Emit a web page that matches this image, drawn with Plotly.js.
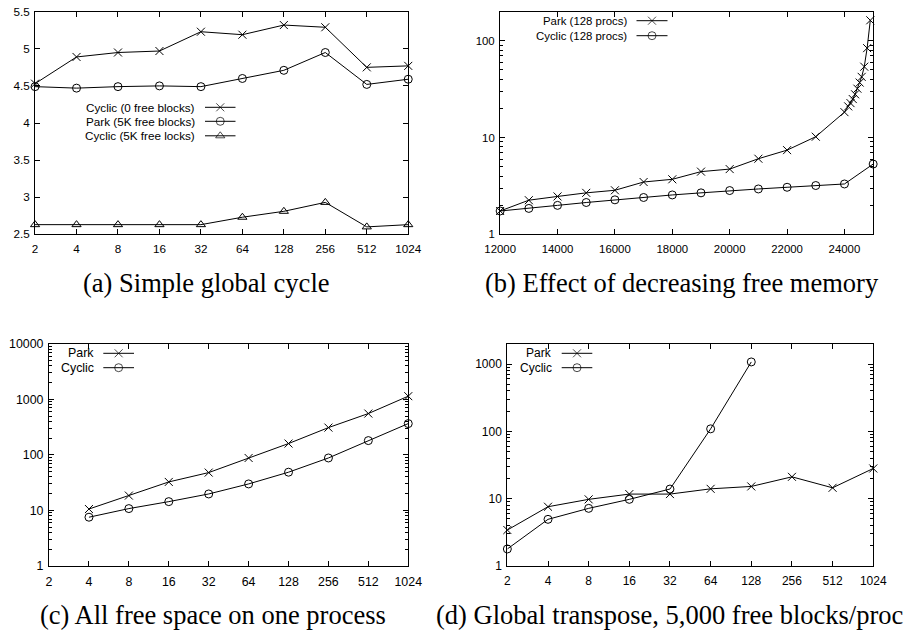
<!DOCTYPE html>
<html><head><meta charset="utf-8">
<script src="https://cdn.plot.ly/plotly-3.0.1.min.js"></script>
<style>html,body{margin:0;padding:0;background:#fff}#g{width:913px;height:633px}</style>
</head><body><div id="g"></div>
<script>
// ---- data ----
const procs = [2, 4, 8, 16, 32, 64, 128, 256, 512, 1024];
const procLabels = ['2','4','8','16','32','64','128','256','512','1024'];

// (a) Simple global cycle
const aCyclic0 = [4.53, 4.89, 4.95, 4.97, 5.23, 5.19, 5.32, 5.29, 4.75, 4.77];
const aPark5K  = [4.49, 4.47, 4.49, 4.50, 4.49, 4.60, 4.71, 4.95, 4.52, 4.59];
const aCyclic5K = [2.63, 2.63, 2.63, 2.63, 2.63, 2.73, 2.81, 2.93, 2.60, 2.63];

// (b) Effect of decreasing free memory
const bParkMem = [12000, 13000, 14000, 15000, 16000, 17000, 18000, 19000, 20000, 21000, 22000, 23000,
                  24000, 24130, 24210, 24290, 24370, 24450, 24530, 24600, 24690, 24790, 24900];
const bPark = [1.74, 2.25, 2.46, 2.68, 2.85, 3.47, 3.70, 4.44, 4.72, 6.04, 7.41, 10.2,
               18.3, 21, 22.7, 25, 28, 32, 37, 42.4, 54, 84, 163];
const bCyclicMem = [12000, 13000, 14000, 15000, 16000, 17000, 18000, 19000, 20000, 21000, 22000, 23000, 24000, 25000];
const bCyclic = [1.74, 1.85, 1.99, 2.13, 2.27, 2.40, 2.55, 2.68, 2.83, 2.94, 3.06, 3.19, 3.31, 5.32];

// (c) All free space on one process
const cProcs = [4, 8, 16, 32, 64, 128, 256, 512, 1024];
const cPark   = [10.6, 18.5, 32.6, 48, 88, 160, 310, 555, 1140];
const cCyclic = [7.55, 10.8, 14.4, 19.8, 30, 48.8, 88, 181, 366];

// (d) Global transpose, 5,000 free blocks/proc
const dPark = [3.42, 7.59, 9.77, 11.7, 11.7, 14.0, 15.2, 21.1, 14.5, 28.1];
const dCyclicProcs = [2, 4, 8, 16, 32, 64, 128];
const dCyclic = [1.79, 4.93, 7.18, 9.77, 13.9, 109, 1075];

const captions = ['(a) Simple global cycle', '(b) Effect of decreasing free memory',
                  '(c) All free space on one process', '(d) Global transpose, 5,000 free blocks/proc'];
const legendA = ['Cyclic (0 free blocks)', 'Park (5K free blocks)', 'Cyclic (5K free locks)'];
const legendB = ['Park (128 procs)', 'Cyclic (128 procs)'];
const legendCD = ['Park', 'Cyclic'];
const memTicks = [12000, 14000, 16000, 18000, 20000, 22000, 24000];
const logMajor = [1, 10, 100, 1000, 10000];
const logMinor = [2,3,4,5,6,7,8,9,20,30,40,50,60,70,80,90,200,300,400,500,600,700,800,900,2000,3000,4000,5000,6000,7000,8000,9000];

// ---- styling / layout ----
const W = 913, H = 633;
const px = v => v / W, py = v => 1 - v / H;
const SANS = 'Liberation Sans, Arial, sans-serif';
const SERIF = 'Liberation Serif, Times New Roman, serif';
const line = {color: '#000', width: 1};
const MK = {
  x: {symbol: 'x-thin-open', size: 8, color: '#000', line: {color: '#000', width: 1}},
  o: {symbol: 'circle-open', size: 8, color: '#000', line: {color: '#000', width: 1}},
  t: {symbol: 'triangle-up-open', size: 8, color: '#000', line: {color: '#000', width: 1}}
};
function tr(x, y, mk, xa, ya) {
  return {x: x, y: y, mode: 'lines+markers', line: line, marker: MK[mk], xaxis: xa, yaxis: ya,
          showlegend: false, hoverinfo: 'skip', cliponaxis: false};
}
const data = [
  tr(procs, aCyclic0, 'x', 'x', 'y'),
  tr(procs, aPark5K, 'o', 'x', 'y'),
  tr(procs, aCyclic5K, 't', 'x', 'y'),
  tr(bParkMem, bPark, 'x', 'x2', 'y2'),
  tr(bCyclicMem, bCyclic, 'o', 'x2', 'y2'),
  tr(cProcs, cPark, 'x', 'x3', 'y3'),
  tr(cProcs, cCyclic, 'o', 'x3', 'y3'),
  tr(procs, dPark, 'x', 'x4', 'y4'),
  tr(dCyclicProcs, dCyclic, 'o', 'x4', 'y4')
];

// legend boxes (pixel layout): text right edge, sample line start/end, rows
const legends = [
  {labels: legendA, marks: ['x','o','t'], tx: 197, l0: 205, l1: 235.5, rows: [107.3, 121.3, 135.8], fs: 11.7},
  {labels: legendB, marks: ['x','o'], tx: 629, l0: 636.5, l1: 667.5, rows: [20.7, 35.7], fs: 11.4},
  {labels: legendCD, marks: ['x','o'], tx: 96, l0: 103.3, l1: 134, rows: [353.3, 367.7], fs: 12.4},
  {labels: legendCD, marks: ['x','o'], tx: 554.3, l0: 561.7, l1: 592.3, rows: [353.3, 367.7], fs: 12}
];
const annotations = [];
legends.forEach(L => {
  L.labels.forEach((lab, i) => {
    annotations.push({text: lab, xref: 'paper', yref: 'paper', x: px(L.tx), y: py(L.rows[i]),
      xanchor: 'right', yanchor: 'middle', showarrow: false, font: {family: SANS, size: L.fs, color: '#000'}});
    const xm = (L.l0 + L.l1) / 2;
    data.push({x: [px(L.l0), px(xm), px(L.l1)], y: [py(L.rows[i]), py(L.rows[i]), py(L.rows[i])],
      mode: 'lines+markers', line: line,
      marker: Object.assign({}, MK[L.marks[i]], {size: [0, 8, 0]}),
      xaxis: 'x5', yaxis: 'y5', showlegend: false, hoverinfo: 'skip'});
  });
});
const capPos = [[206.5, 283], [682, 283], [213, 615], [669, 615]];
captions.forEach((c, i) => annotations.push({text: c, xref: 'paper', yref: 'paper',
  x: px(capPos[i][0]), y: py(capPos[i][1]), xanchor: 'center', yanchor: 'middle', showarrow: false,
  font: {family: SERIF, size: 26.5, color: '#000'}}));

function axBase(fs) {
  return {showline: true, linecolor: '#000', linewidth: 1, mirror: 'ticks', ticks: 'inside', ticklen: 5,
    tickcolor: '#000', tickwidth: 1, showgrid: false, zeroline: false, fixedrange: true,
    tickfont: {family: SANS, size: fs, color: '#000'}};
}
function xProc(dom, anchor, fs) {
  return Object.assign(axBase(fs), {type: 'log', domain: dom, anchor: anchor, ticklabelstandoff: 4,
    range: [Math.log10(2) - 0.0004, Math.log10(1024) + 0.0004], tickmode: 'array', tickvals: procs, ticktext: procLabels});
}
function yLog(dom, anchor, top, fs) {
  return Object.assign(axBase(fs), {type: 'log', domain: dom, anchor: anchor, range: [-0.0004, Math.log10(top)],
    ticklabelstandoff: 2, tickmode: 'array', tickvals: logMajor, ticktext: logMajor.map(String),
    minor: {tickmode: 'array', tickvals: logMinor, ticks: 'inside', ticklen: 3, tickcolor: '#000', tickwidth: 1, showgrid: false}});
}
const yTop = [py(234.3), py(11.7)];
const yBot = [py(566), py(343.8)];
const layout = {
  width: W, height: H, margin: {l: 0, r: 0, t: 0, b: 0}, paper_bgcolor: '#fff', plot_bgcolor: 'rgba(0,0,0,0)',
  showlegend: false,
  xaxis: xProc([px(35), px(408.3)], 'y', 11.7),
  yaxis: Object.assign(axBase(11.7), {domain: yTop, anchor: 'x', range: [2.5, 5.5], dtick: 0.5, tick0: 2.5,
    tickformat: '.1~f', ticklabelstandoff: 2}),
  xaxis2: Object.assign(axBase(11.4), {domain: [px(500), px(873.3)], anchor: 'y2', range: [11995, 25005],
    ticklabelstandoff: 4, tickmode: 'array', tickvals: memTicks, ticktext: memTicks.map(String)}),
  yaxis2: yLog(yTop, 'x2', 200, 11.4),
  xaxis3: xProc([px(49), px(408.3)], 'y3', 12.4),
  yaxis3: yLog(yBot, 'x3', 10000, 12.4),
  xaxis4: xProc([px(507.3), px(873.3)], 'y4', 12),
  yaxis4: yLog(yBot, 'x4', 2000, 12),
  xaxis5: {domain: [0, 1], range: [0, 1], visible: false, anchor: 'y5', fixedrange: true},
  yaxis5: {domain: [0, 1], range: [0, 1], visible: false, anchor: 'x5', fixedrange: true},
  annotations: annotations
};
Plotly.newPlot('g', data, layout, {staticPlot: true, displayModeBar: false});
</script></body></html>
